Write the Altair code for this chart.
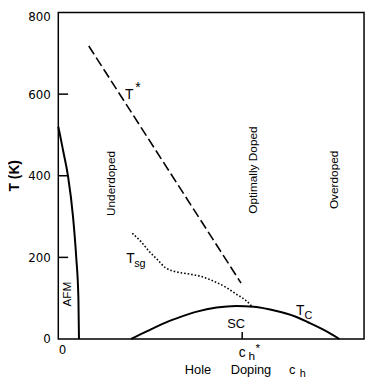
import altair as alt
import pandas as pd

XMAX = 0.266
CH_STAR = 0.16

# AFM boundary
afm_x = [0.0, 0.0015, 0.0043, 0.0084, 0.0128, 0.0156, 0.0175, 0.0180]
afm_T = [520, 500, 460, 400, 300, 200, 100, 0]

# T* (dashed straight line)
tstar_x = [0.0265, 0.159]
tstar_T = [718, 137]

# Tsg (dotted)
tsg_x = [0.0644, 0.0721, 0.0793, 0.0864, 0.0935, 0.1006, 0.1120, 0.1234, 0.1349, 0.1463, 0.1548, 0.1634, 0.1691]
tsg_T = [259, 238, 214, 194, 174, 166, 160, 154, 142, 126, 110, 94, 78]

# Tc dome
tc_x = [0.0633, 0.0778, 0.0907, 0.1035, 0.1206, 0.1377, 0.1548, 0.1702, 0.1890, 0.2061, 0.2172, 0.2318, 0.2446]
tc_T = [0, 20, 37, 51, 67, 77, 81, 79, 69, 55, 41, 21, 0]

# frame box and tick marks
frame_x = [0.0, XMAX]
frame_T = [0, 800]
ytick_vals = [200, 400, 600]

# Plain labels: text, x, T, font size
lab_text = ["T", "*", "T", "sg", "T", "C", "SC", "c", "h", "*", "Hole", "Doping", "c", "h"]
lab_x = [0.0616, 0.0693, 0.0629, 0.0710, 0.2104, 0.2177, 0.1548, 0.1600, 0.1683, 0.1735, 0.1215, 0.1676, 0.2036, 0.2128]
lab_T = [589, 606, 187, 177, 58, 50, 26, -43.5, -51.0, -33.0, -87.0, -87.0, -87.0, -93.0]
lab_size = [14, 14, 14, 11, 14, 11, 13, 14, 12, 12, 13, 13, 13, 11]

# Vertical labels
vlab_text = ["Underdoped", "Optimally Doped", "Overdoped", "AFM"]
vlab_x = [0.0462, 0.1698, 0.2399, 0.0077]
vlab_T = [381, 414, 390, 110]

xs = alt.Scale(domain=[0, XMAX], nice=False, zero=False)
ys = alt.Scale(domain=[0, 800], nice=False)

X = alt.X("x:Q", scale=xs, axis=alt.Axis(
    values=[0], format="d", ticks=False, domain=False, grid=False, labelPadding=6,
    labelFont="DejaVu Sans", labelFontSize=12, labelColor="black", title=None))
Y = alt.Y("T:Q", scale=ys, axis=alt.Axis(
    values=[0, 200, 400, 600, 800], format="d", ticks=False, domain=False, grid=False,
    labelPadding=8, labelFont="DejaVu Sans", labelFontSize=12, labelColor="black",
    labelOffset={"condition": {"test": "datum.value == 800", "value": 4}, "value": 0},
    title="T (K)", titleAngle=270, titleX=-44, titleY=165, titleAlign="center",
    titleBaseline="middle", titleFont="Liberation Sans", titleFontSize=14,
    titleFontWeight="bold", titleColor="black"))


def df(x, T):
    return pd.DataFrame({"x": x, "T": T})


afm = alt.Chart(df(afm_x, afm_T)).mark_line(color="black", strokeWidth=2, interpolate="monotone").encode(x=X, y=Y)
tstar = alt.Chart(df(tstar_x, tstar_T)).mark_line(color="black", strokeWidth=1.6, strokeDash=[10, 4]).encode(x=X, y=Y)
tsg = alt.Chart(df(tsg_x, tsg_T)).mark_line(color="black", strokeWidth=1.6, strokeDash=[1.6, 2], interpolate="monotone").encode(x=X, y=Y)
tc = alt.Chart(df(tc_x, tc_T)).mark_line(color="black", strokeWidth=2, interpolate="monotone").encode(x=X, y=Y)

frame = alt.Chart(pd.DataFrame({"x": [frame_x[0]], "x2": [frame_x[1]], "T": [frame_T[0]], "T2": [frame_T[1]]})).mark_rect(
    filled=False, stroke="black", strokeWidth=1.5, fillOpacity=0).encode(x=X, x2="x2:Q", y=Y, y2="T2:Q")

ytk = pd.DataFrame({"x": [0.0] * len(ytick_vals), "x2": [0.00855] * len(ytick_vals),
                    "T": ytick_vals})
ytick = alt.Chart(ytk).mark_rule(color="black", strokeWidth=1.5).encode(x=X, x2="x2:Q", y=Y)
xtk = pd.DataFrame({"x": [CH_STAR], "T": [0], "T2": [17]})
xtick = alt.Chart(xtk).mark_rule(color="black", strokeWidth=1.5).encode(x=X, y=Y, y2="T2:Q")

labs = pd.DataFrame({"x": lab_x, "T": lab_T, "text": lab_text, "size": lab_size})
labels = alt.Chart(labs).mark_text(font="Liberation Sans", baseline="alphabetic", align="center", color="black").encode(
    x=X, y=Y, text="text:N", size=alt.Size("size:Q", scale=None, legend=None))

vlabs = pd.DataFrame({"x": vlab_x, "T": vlab_T, "text": vlab_text})
vlabels = alt.Chart(vlabs).mark_text(font="Liberation Sans", fontSize=12, angle=270, baseline="middle",
                                     align="center", color="black").encode(x=X, y=Y, text="text:N")

chart = alt.layer(frame, afm, tstar, tsg, tc, ytick, xtick, labels, vlabels).properties(
    width=310, height=331,
    background="white",
    autosize=alt.AutoSizeParams(type="none"),
    padding={"left": 51, "top": 2, "right": 2, "bottom": 39},
).configure_view(stroke=None)

chart.save("out.html", embed_options={"renderer": "svg", "actions": False})
